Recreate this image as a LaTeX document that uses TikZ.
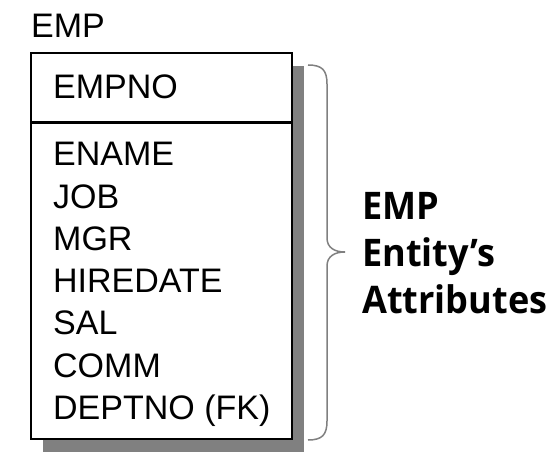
\documentclass[tikz,border=0pt]{standalone}
\usepackage{fontspec}
\setmainfont{Liberation Sans}
\newfontfamily\notefont{Open Sans}[FakeStretch=0.95]
\usetikzlibrary{shadows}

\begin{document}
\begin{tikzpicture}[x=1pt, y=1pt,
entity_style/.style={rectangle, draw=black, line width=2.5pt, fill=white, outer sep=0pt, inner sep=0pt, minimum width=261pt, minimum height=386pt, drop shadow={shadow xshift=12pt, shadow yshift=-13pt, fill=black!50, opacity=1}},
attr_style/.style={anchor=base west, inner sep=0pt, font=\fontsize{34}{40}\selectfont},
brace_style/.style={draw=gray, line width=1.5pt},
note_style/.style={anchor=base west, inner sep=0pt, align=left, font=\notefont\bfseries\fontsize{38}{47.3}\selectfont},
]

\useasboundingbox (0,0) rectangle (556,-462);

	\node[entity_style] at (161.5,-246) (emp) {};
	\node[attr_style] at (31,-38) (emptitle) {EMP};

	\coordinate (divider) at (0,-122.5);
	\draw[line width=2.5pt] (emp.west |- divider) -- (emp.east |- divider);

	\node[attr_style] at (53,-99) (empno) {EMPNO};
	\node[attr_style] at (53,-166) (ename) {ENAME};
	\node[attr_style] at (53,-208.2) (job) {JOB};
	\node[attr_style] at (53,-250.4) (mgr) {MGR};
	\node[attr_style] at (53,-292.6) (hiredate) {HIREDATE};
	\node[attr_style] at (53,-334.8) (sal) {SAL};
	\node[attr_style] at (53,-377) (comm) {COMM};
	\node[attr_style] at (53,-419.2) (deptno) {DEPTNO (FK)};

	% brace
	\coordinate (bracetop) at (308,-65);
	\coordinate (bracetip) at (345,-252);
	\coordinate (bracebottom) at (308,-440);
	\draw[brace_style] (bracetop) .. controls (322,-65) and (327,-70) .. (327,-84) -- (327,-238)
		.. controls (327,-248) and (335,-252) .. (bracetip)
		.. controls (335,-252) and (327,-256) .. (327,-266) -- (327,-421)
		.. controls (327,-435) and (322,-440) .. (bracebottom);

	\node[note_style] at (362,-313.9) (note) {EMP\\Entity’s\\Attributes};

\end{tikzpicture}
\end{document}
